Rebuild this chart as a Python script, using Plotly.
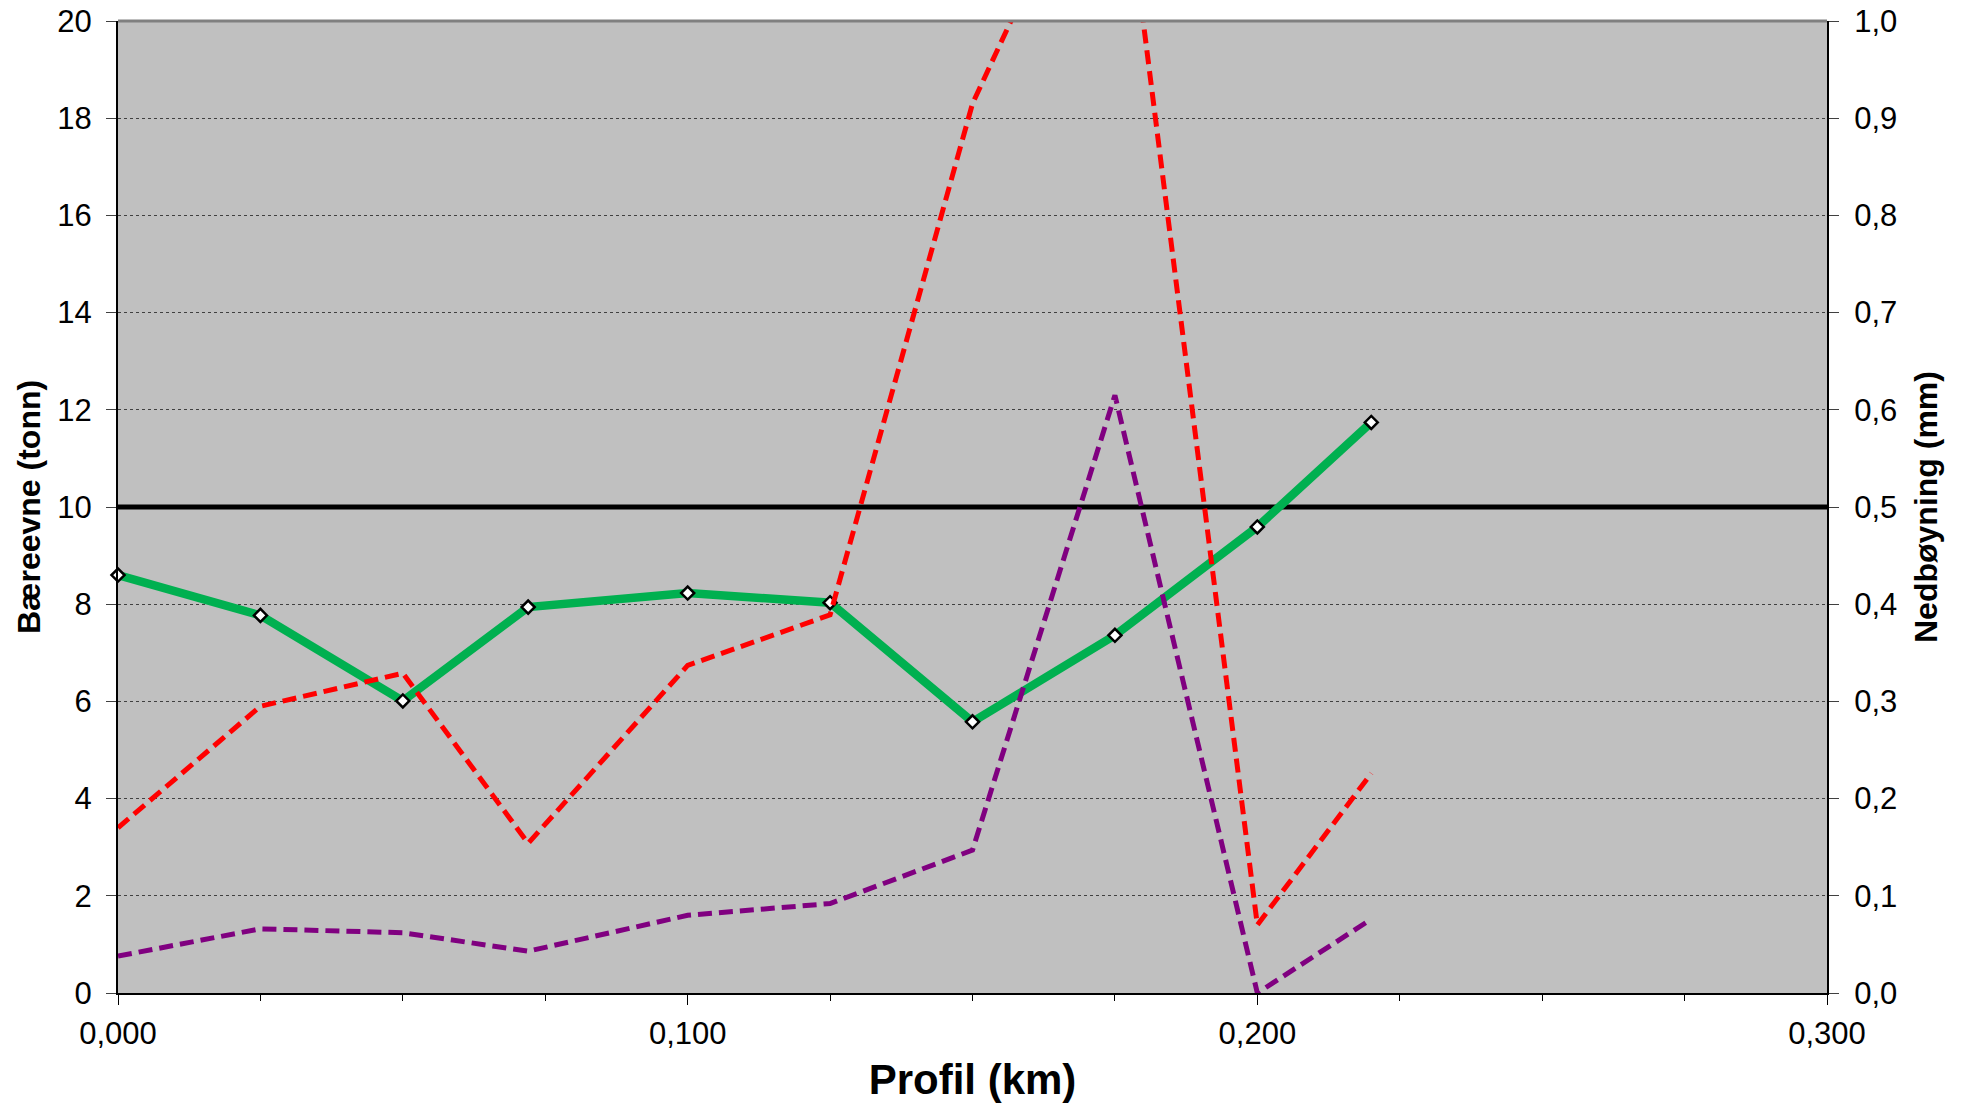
import plotly.graph_objects as go

# Data
profil_km = [0.000, 0.025, 0.050, 0.072, 0.100, 0.125, 0.150, 0.175, 0.200, 0.220]
baereevne = [8.60, 7.77, 6.01, 7.94, 8.23, 8.03, 5.58, 7.36, 9.59, 11.74]
nedboyning_red = [0.170, 0.295, 0.329, 0.154, 0.337, 0.389, 0.915, 1.23, 0.070, 0.226]
nedboyning_purple = [0.038, 0.066, 0.062, 0.043, 0.080, 0.092, 0.147, 0.615, 0.000, 0.076]
limit_x = [0.0, 0.3]
limit_y = [10, 10]

FONT = "Liberation Sans, Arial, sans-serif"

fig = go.Figure()

fig.add_trace(go.Scatter(x=limit_x, y=limit_y, mode="lines",
                         line=dict(color="#000000", width=5),
                         yaxis="y", showlegend=False, hoverinfo="skip"))

fig.add_trace(go.Scatter(x=profil_km, y=baereevne, mode="lines+markers",
                         line=dict(color="#00B050", width=8.5),
                         marker=dict(symbol="diamond", size=10, color="#FFFFFF",
                                     line=dict(color="#000000", width=2.5)),
                         cliponaxis=False, yaxis="y", showlegend=False))

fig.add_trace(go.Scatter(x=profil_km, y=nedboyning_red, mode="lines",
                         line=dict(color="#FF0000", width=5, dash="14px,7px"),
                         yaxis="y2", showlegend=False))

fig.add_trace(go.Scatter(x=profil_km, y=nedboyning_purple, mode="lines",
                         line=dict(color="#800080", width=5, dash="14px,7px"),
                         yaxis="y2", showlegend=False))

tickfont = dict(family=FONT, size=31, color="#000000")

fig.update_layout(
    width=1966, height=1110,
    margin=dict(l=118, r=139, t=21, b=117, autoexpand=False),
    paper_bgcolor="#FFFFFF",
    plot_bgcolor="#C0C0C0",
    separators=", ",
    font=dict(family=FONT, color="#000000"),
    xaxis=dict(
        range=[0, 0.3], tick0=0, dtick=0.1, tickformat=".3f",
        ticks="outside", ticklen=10, tickwidth=1, tickcolor="#000000",
        minor=dict(dtick=0.025, ticks="outside", ticklen=6, tickcolor="#000000", showgrid=False),
        showgrid=False, zeroline=False,
        showline=True, linecolor="#000000", linewidth=2,
        tickfont=tickfont, ticklabelstandoff=2, ticklabeloverflow="allow",
        title=dict(text="<b>Profil (km)</b>", font=dict(family=FONT, size=42), standoff=14),
        automargin=False,
    ),
    yaxis=dict(
        range=[0, 20], tick0=0, dtick=2,
        ticks="outside", ticklen=10, tickwidth=1, tickcolor="#404040",
        showgrid=True, gridcolor="#404040", gridwidth=1, griddash="dot",
        zeroline=False,
        showline=True, linecolor="#000000", linewidth=2,
        tickfont=tickfont, ticklabelstandoff=8, ticklabeloverflow="allow",
        title=dict(text="<b>Bæreevne (tonn)</b>", font=dict(family=FONT, size=32), standoff=7),
        automargin=False,
    ),
    yaxis2=dict(
        range=[0, 1], tick0=0, dtick=0.1, tickformat=".1f",
        overlaying="y", side="right",
        ticks="outside", ticklen=10, tickwidth=1, tickcolor="#404040",
        showgrid=False, zeroline=False,
        showline=True, linecolor="#000000", linewidth=2,
        tickfont=tickfont, ticklabelstandoff=9, ticklabeloverflow="allow",
        title=dict(text="<b>Nedbøyning (mm)</b>", font=dict(family=FONT, size=32), standoff=18),
        automargin=False,
    ),
    shapes=[dict(type="line", xref="paper", yref="paper", x0=0, x1=1, y0=1, y1=1,
                 line=dict(color="#808080", width=3), layer="above")],
)

# remove the default 8px page margin so the figure fills the window exactly
fig.write_html("out.html",
               config={"displayModeBar": False},
               post_script="document.body.style.margin='0px';document.body.style.overflow='hidden';")
